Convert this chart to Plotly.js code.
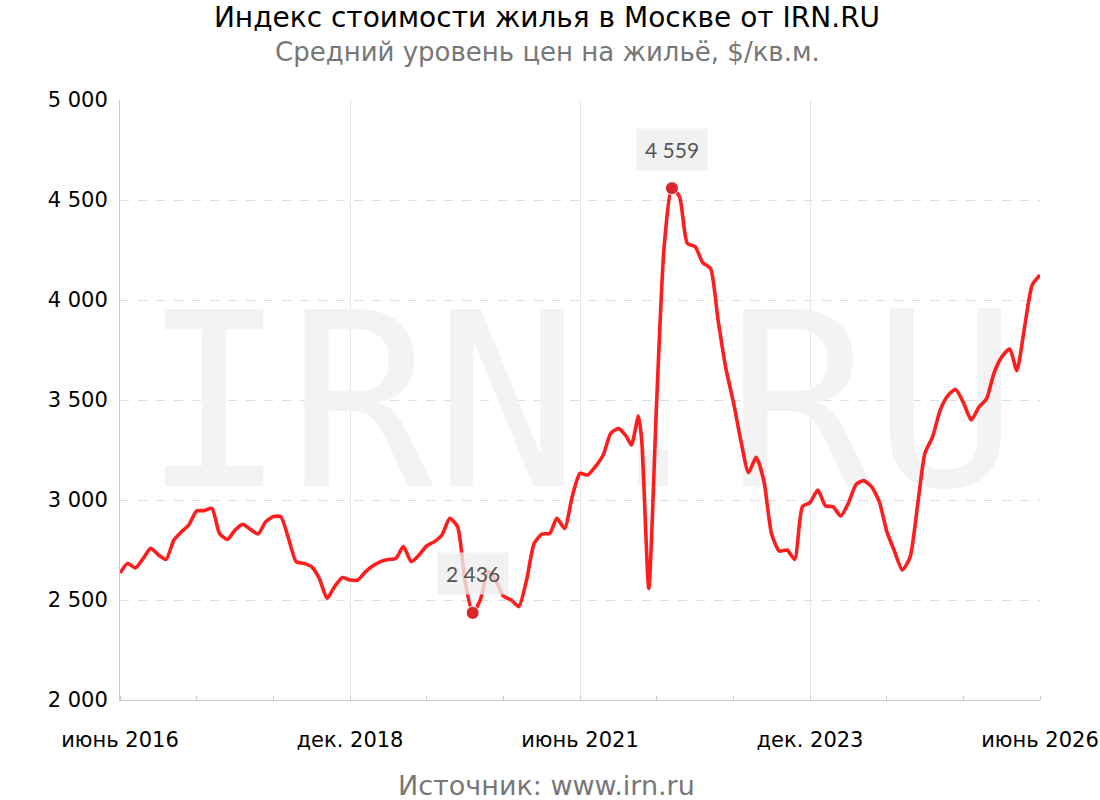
<!DOCTYPE html>
<html>
<head>
<meta charset="utf-8">
<script src="https://cdn.plot.ly/plotly-3.0.1.min.js"></script>
<style>html,body{margin:0;padding:0;background:#fff;}#chart{width:1100px;height:800px;}</style>
</head>
<body>
<div id="chart"></div>
<script>
const dates = [
  '2016-06','2016-07','2016-08','2016-09','2016-10','2016-11','2016-12',
  '2017-01','2017-02','2017-03','2017-04','2017-05','2017-06','2017-07','2017-08','2017-09','2017-10','2017-11','2017-12',
  '2018-01','2018-02','2018-03','2018-04','2018-05','2018-06','2018-07','2018-08','2018-09','2018-10','2018-11','2018-12',
  '2019-01','2019-02','2019-03','2019-04','2019-05','2019-06','2019-07','2019-08','2019-09','2019-10','2019-11','2019-12',
  '2020-01','2020-02','2020-03','2020-04','2020-05','2020-06','2020-07','2020-08','2020-09','2020-10','2020-11','2020-12',
  '2021-01','2021-02','2021-03','2021-04','2021-05','2021-06','2021-07','2021-08','2021-09','2021-10','2021-11','2021-12','2021-12-22',
  '2022-01-19','2022-02','2022-03','2022-04','2022-05','2022-06','2022-07','2022-08','2022-09','2022-10','2022-11','2022-12',
  '2023-01','2023-02','2023-03','2023-04','2023-05','2023-06','2023-07','2023-08','2023-09','2023-10','2023-11','2023-12',
  '2024-01','2024-02','2024-03','2024-04','2024-05','2024-06','2024-07','2024-08','2024-09','2024-10','2024-11','2024-12',
  '2025-01','2025-02','2025-03','2025-04','2025-05','2025-06','2025-07','2025-08','2025-09','2025-10','2025-11','2025-12',
  '2026-01','2026-02','2026-03','2026-04','2026-05','2026-06'
];
const prices = [
  2635,2683,2660,2708,2758,2725,2703,
  2800,2842,2875,2945,2947,2958,2833,2803,2850,2878,2853,2830,
  2892,2917,2917,2808,2692,2683,2667,2608,2508,2567,2612,2600,
  2600,2642,2670,2692,2703,2708,2767,2692,2725,2770,2792,2825,
  2908,2867,2600,2436,2500,2642,2600,2520,2500,2467,2600,2783,
  2830,2833,2908,2858,3017,3133,3125,3167,3225,3333,3357,3320,3275,
  3420,3300,2558,3483,4267,4559,4517,4283,4267,4187,4158,3900,
  3658,3483,3300,3137,3213,3095,2833,2745,2750,2703,2967,2987,
  3050,2970,2967,2920,2983,3078,3097,3067,2992,2842,2742,2650,
  2713,2983,3233,3317,3450,3523,3553,3487,3400,3463,3507,3637,
  3717,3755,3647,3867,4075,4125
];
const yTickVals = [2000, 2500, 3000, 3500, 4000, 4500, 5000];
const yTickText = ['2 000', '2 500', '3 000', '3 500', '4 000', '4 500', '5 000'];
const xTickVals = ['2016-06-01', '2018-12-01', '2021-06-01', '2023-12-01', '2026-06-01'];
const xTickText = ['июнь 2016', 'дек. 2018', 'июнь 2021', 'дек. 2023', 'июнь 2026'];
const titleText = 'Индекс стоимости жилья в Москве от IRN.RU';
const subtitleText = 'Средний уровень цен на жильё, $/кв.м.';
const sourceText = 'Источник: www.irn.ru';
const watermarkText = 'IRN.RU';

function fmt(v) { return String(v).replace(/\B(?=(\d{3})+(?!\d))/g, ' '); }

const maxV = Math.max(...prices), minV = Math.min(...prices);
const iMax = prices.indexOf(maxV), iMin = prices.indexOf(minV);
const extX = [dates[iMin], dates[iMax]];
const extY = [minV, maxV];

const traces = [
  {
    x: ['2021-06-01'], y: [3375], mode: 'text', text: [watermarkText],
    textfont: {family: 'DejaVu Sans Mono', size: 243, color: '#f3f3f3'},
    textposition: 'middle center', hoverinfo: 'skip', showlegend: false, cliponaxis: false
  },
  {
    x: dates, y: prices, mode: 'lines',
    line: {color: 'rgba(255,10,10,0.92)', width: 3.6, shape: 'spline', smoothing: 0.6},
    hoverinfo: 'skip', showlegend: false
  },
  {
    x: extX, y: extY, mode: 'markers',
    marker: {color: '#d9262a', size: 13, line: {color: '#ffffff', width: 1}},
    hoverinfo: 'skip', showlegend: false, cliponaxis: false
  }
];

const annotations = [
  {xref: 'paper', yref: 'paper', x: (547 - 120) / 920, y: (700 - 52) / 600, xanchor: 'center', yanchor: 'middle',
   text: subtitleText, showarrow: false, font: {family: 'DejaVu Sans', size: 26, color: '#777777'}},
  {xref: 'paper', yref: 'paper', x: (546 - 120) / 920, y: (700 - 785) / 600, xanchor: 'center', yanchor: 'middle',
   text: sourceText, showarrow: false, font: {family: 'DejaVu Sans', size: 27, color: '#777777'}}
];
extX.forEach((xv, i) => {
  annotations.push({
    x: xv, y: extY[i], xref: 'x', yref: 'y', text: fmt(extY[i]), showarrow: false,
    yshift: 39, xanchor: 'center', yanchor: 'middle',
    bgcolor: 'rgba(238,238,238,0.8)', borderpad: 8,
    font: {family: 'Lato', size: 21, color: '#555555'}
  });
});

const layout = {
  width: 1100, height: 800,
  paper_bgcolor: '#ffffff', plot_bgcolor: '#ffffff',
  margin: {l: 120, r: 60, t: 100, b: 100},
  title: {text: titleText, x: 547 / 1100, xanchor: 'center', xref: 'container', y: 1 - 17/800, yanchor: 'middle', yref: 'container',
          font: {family: 'DejaVu Sans', size: 28, color: '#000000'}},
  xaxis: {
    type: 'date', range: ['2016-06-01', '2026-06-01'],
    tickmode: 'array', tickvals: xTickVals, ticktext: xTickText,
    showgrid: true, gridcolor: '#e6e6e6', gridwidth: 1,
    showline: true, linecolor: '#cccccc', linewidth: 1,
    ticks: '', ticklabelstandoff: 21,
    tickfont: {family: 'DejaVu Sans', size: 21, color: '#000000'},
    minor: {dtick: 'M10', tick0: '2016-06-01', ticks: 'inside', ticklen: 4, tickcolor: '#cccccc', showgrid: false},
    zeroline: false, fixedrange: true
  },
  yaxis: {
    range: [2000, 5000], tickmode: 'array', tickvals: yTickVals, ticktext: yTickText,
    showgrid: true, gridcolor: '#dddddd', griddash: 'dash', gridwidth: 1,
    showline: true, linecolor: '#cccccc', linewidth: 1,
    ticks: '', ticklabelstandoff: 7,
    tickfont: {family: 'DejaVu Sans', size: 21, color: '#000000'},
    zeroline: false, fixedrange: true
  },
  annotations: annotations,
  showlegend: false
};

Plotly.newPlot('chart', traces, layout, {displayModeBar: false, staticPlot: true});
</script>
</body>
</html>
